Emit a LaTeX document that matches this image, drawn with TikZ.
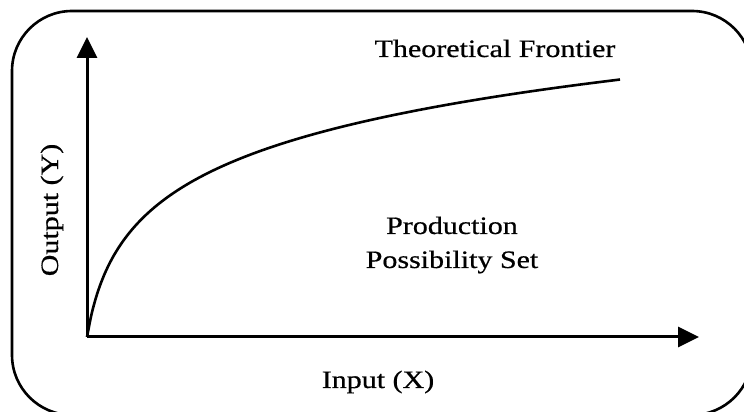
\documentclass[tikz,border=0pt]{standalone}
\usepackage{fontspec}
\setmainfont{Liberation Serif}[FakeStretch=1.2, FakeBold=0.6]
\usetikzlibrary{arrows.meta, positioning}

\begin{document}
\begin{tikzpicture}[
    x=1pt, y=1pt,
    % Stili
    frame/.style={draw=black, line width=2.6pt, rounded corners=60pt},
    axis/.style={draw=black, line width=3pt, -{Triangle[length=21pt, width=20pt]}},
    frontier/.style={draw=black, line width=2.6pt},
    lbl/.style={font=\fontsize{25}{34}\selectfont, inner sep=0pt, align=center}
]
    \useasboundingbox (0,0) rectangle (744,412);

    % ==================== CORNICE ====================
    \draw [frame] (12,-3) rectangle (752,401);

    % ==================== ASSI ====================
    \coordinate (origin) at (87,75);
    \coordinate (ytip) at (87,375);
    \coordinate (xtip) at (699,75);

    \draw [axis] (origin) -- (ytip);
    \draw [axis] (origin) -- (xtip);

    % ==================== FRONTIERA ====================
    \draw [frontier, shift={(origin)}] plot[domain=0:533, samples=120, smooth] (\x, {66*ln(1+\x/11)});

    % ==================== ETICHETTE ====================
    \node [lbl, anchor=base] (front_lbl) at (495,355) {Theoretical Frontier};
    \node [lbl] (pps_lbl) at (452,167) {Production\\Possibility Set};
    \node [lbl, anchor=base] (x_lbl) at (378,24) {Input (X)};
    \node [lbl, anchor=base, rotate=90] (y_lbl) at (58,202) {Output (Y)};

\end{tikzpicture}
\end{document}
